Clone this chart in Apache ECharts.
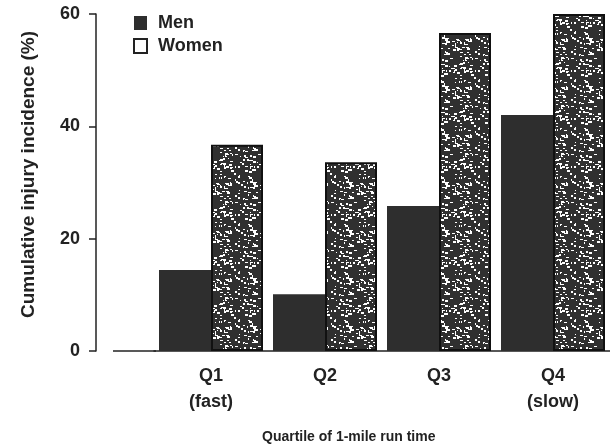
<!DOCTYPE html>
<html>
<head>
<meta charset="utf-8">
<script src="https://cdn.jsdelivr.net/npm/echarts@6/dist/echarts.min.js"></script>
<style>
  html, body { margin: 0; padding: 0; background: #fff; }
  #chart { width: 610px; height: 444px; }
</style>
</head>
<body>
<div id="chart"></div>
<script>
// Cumulative injury incidence by quartile of 1-mile run time
const categories = ['Q1\n(fast)', 'Q2', 'Q3', 'Q4\n(slow)'];
const menValues = [14.4, 10.1, 25.8, 42.0];
const womenValues = [36.7, 33.6, 56.6, 60.0];
const yTicks = { min: 0, max: 60, interval: 20 };

const ink = '#222';
const font = '"Liberation Sans", Arial, sans-serif';

// Speckled fill for the Women bars (deterministic seed so the texture is stable)
function speckle() {
  const c = document.createElement('canvas');
  c.width = 48; c.height = 48;
  const g = c.getContext('2d');
  g.fillStyle = '#303030';
  g.fillRect(0, 0, 48, 48);
  let s = 12345;
  const next = () => { s = (s * 1103515245 + 12345) & 0x7fffffff; return s / 0x7fffffff; };
  g.fillStyle = '#fff';
  for (let i = 0; i < 150; i++) {
    const x = Math.floor(next() * 48), y = Math.floor(next() * 48);
    const w = 1 + Math.floor(next() * 3), h = 1 + Math.floor(next() * 2);
    g.fillRect(x, y, w, h);
  }
  return c;
}

const chart = echarts.init(document.getElementById('chart'), null, { renderer: 'canvas' });
chart.setOption({
  animation: false,
  backgroundColor: '#fff',
  textStyle: { fontFamily: font },
  grid: { left: 154, top: 14, width: 464, height: 337, containLabel: false },
  legend: {
    orient: 'vertical', left: 133, top: 14, itemGap: 5, padding: 0,
    itemWidth: 13, itemHeight: 14,
    textStyle: { fontFamily: font, fontSize: 18, fontWeight: 'bold', color: ink, padding: [0, 0, 0, 6] },
    data: [
      { name: 'Men', icon: 'rect' },
      { name: 'Women', icon: 'rect', itemStyle: { color: '#fff', borderColor: ink, borderWidth: 2 } }
    ]
  },
  xAxis: {
    type: 'category',
    data: categories,
    axisLine: { show: true, lineStyle: { color: ink, width: 1.5 } },
    axisTick: { show: false },
    axisLabel: { margin: 12, lineHeight: 26, fontSize: 18, fontWeight: 'bold', color: ink, fontFamily: font }
  },
  yAxis: {
    type: 'value',
    min: yTicks.min, max: yTicks.max, interval: yTicks.interval,
    offset: 58,
    name: 'Cumulative injury incidence (%)',
    nameLocation: 'middle', nameGap: 58,
    nameTextStyle: { fontSize: 19, fontWeight: 'bold', color: ink, fontFamily: font, padding: [0, 0, 0, 16] },
    axisLine: { show: true, lineStyle: { color: ink, width: 1.5 } },
    axisTick: { show: true, length: 7, lineStyle: { color: ink, width: 1.5 } },
    axisLabel: { margin: 16, fontSize: 18, fontWeight: 'bold', color: ink, fontFamily: font, padding: [4, 0, 0, 0] },
    splitLine: { show: false }
  },
  series: [
    {
      name: 'Men', type: 'bar', data: menValues,
      barWidth: 52, barGap: '0%',
      itemStyle: { color: '#2e2e2e' }
    },
    {
      name: 'Women', type: 'bar', data: womenValues,
      barWidth: 52,
      itemStyle: {
        color: { image: speckle(), repeat: 'repeat' },
        borderColor: '#111', borderWidth: 2
      }
    }
  ],
  graphic: [
    { type: 'line', shape: { x1: 113, y1: 351, x2: 156, y2: 351 }, style: { stroke: ink, lineWidth: 1.5 } },
    {
      type: 'text', left: 262, top: 430,
      style: { text: 'Quartile of 1-mile run time', fontSize: 14, fontWeight: 'bold', fill: ink, fontFamily: font }
    }
  ]
});
</script>
</body>
</html>
